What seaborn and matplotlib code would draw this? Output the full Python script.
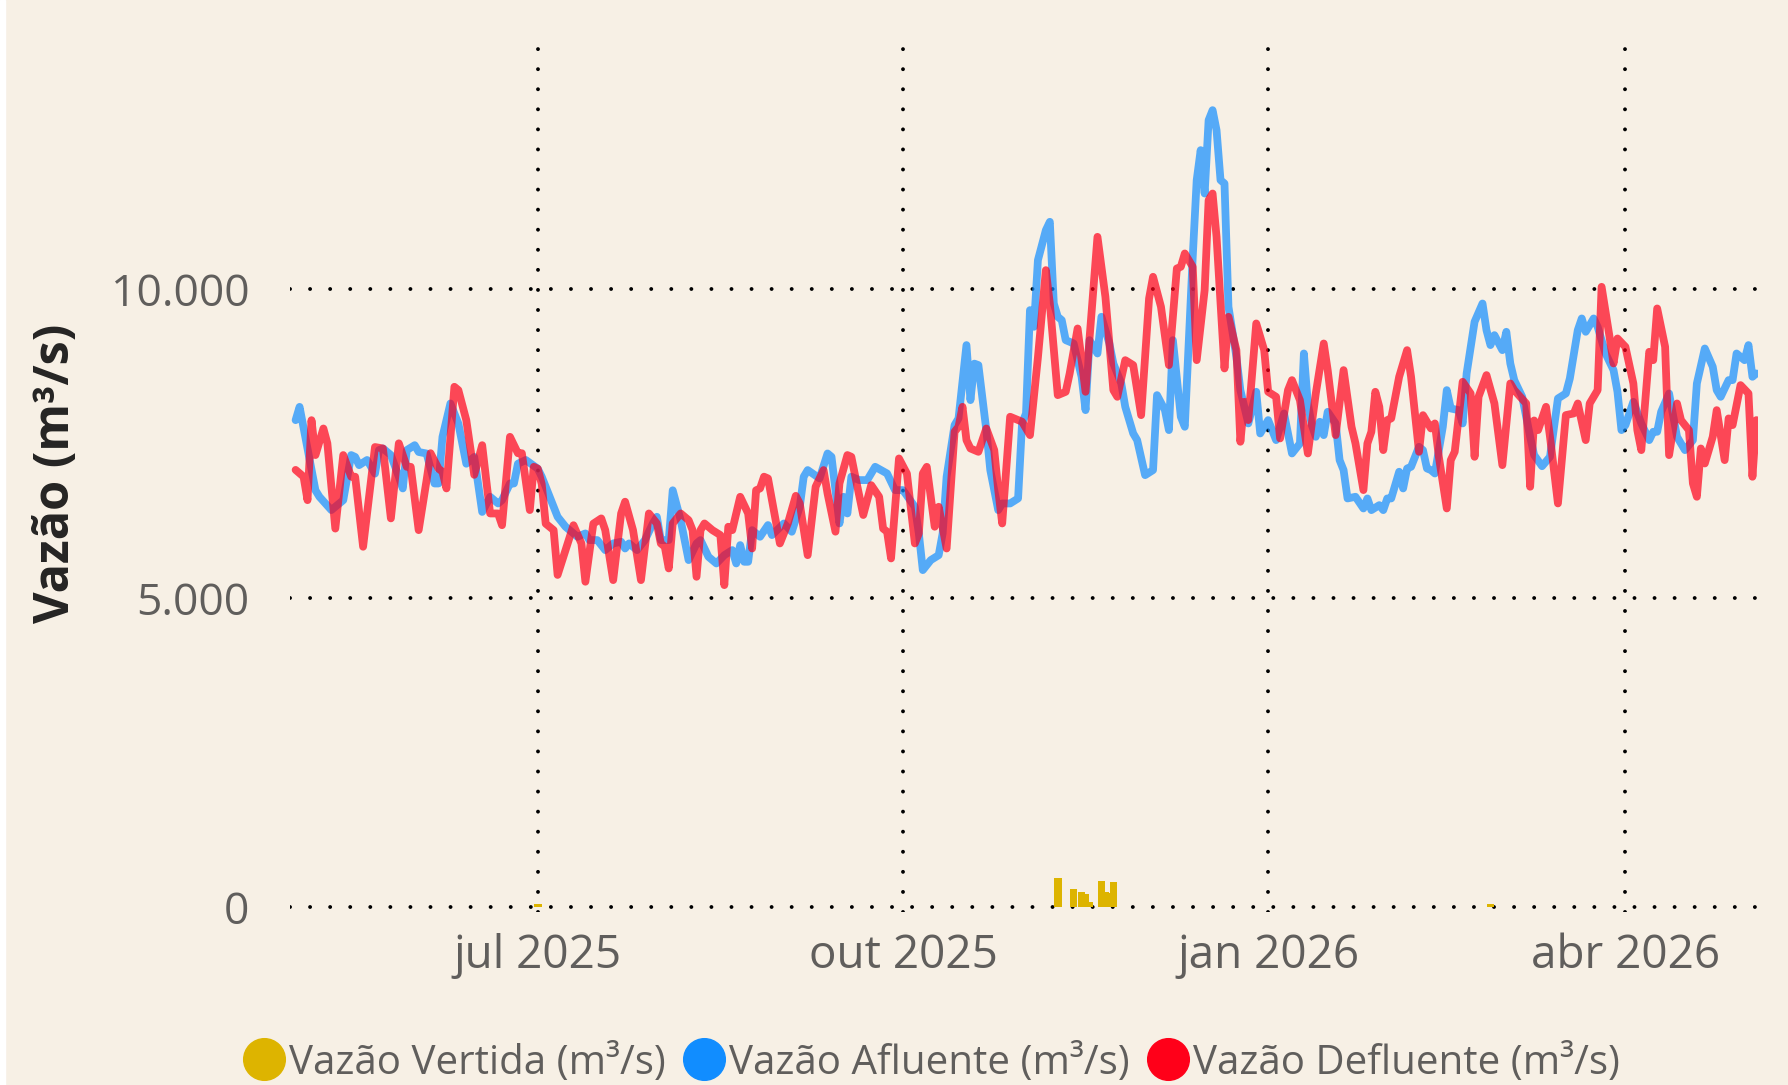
import numpy as np
import pandas as pd
import matplotlib
matplotlib.use('Agg')
import matplotlib.pyplot as plt
from matplotlib.lines import Line2D
from matplotlib.patches import Rectangle
import seaborn as sns

start = pd.Timestamp('2025-05-01')

# Vazão Afluente (blue) - day offset from start, value
afl_days = [0, 1, 5, 6, 9, 10, 12, 14, 15, 16, 18, 20, 21, 22, 24, 26, 27, 28, 30, 31,
            33, 35, 36, 37, 39, 41, 43, 45, 47, 49, 51, 52, 54, 55, 56, 58, 61, 62, 64, 66,
            68, 71, 73, 74, 76, 78, 80, 82, 83, 84, 86, 88, 90, 91, 92, 94, 95, 97, 99, 101,
            102, 104, 106, 108, 110, 111, 112, 113, 114, 115, 117, 119, 120, 123, 125, 127, 128, 129, 132, 134,
            135, 137, 138, 139, 140, 142, 144, 146, 149, 151, 153, 156, 157, 158, 160, 162, 163, 164, 166, 167,
            169, 170, 171, 172, 174, 175, 177, 178, 180, 182, 183, 184, 185, 186, 187, 189, 190, 191, 192, 193,
            194, 196, 198, 199, 200, 202, 203, 205, 206, 208, 209, 211, 212, 214, 216, 217, 219, 220, 221, 223,
            224, 226, 227, 228, 229, 230, 231, 232, 233, 234, 235, 237, 238, 240, 242, 243, 245, 247, 249, 251,
            253, 254, 255, 256, 257, 258, 259, 260, 262, 263, 264, 265, 267, 269, 270, 271, 273, 274, 275, 276,
            278, 279, 280, 281, 283, 284, 285, 286, 287, 289, 290, 291, 293, 294, 295, 297, 299, 300, 301, 302,
            304, 305, 306, 307, 309, 311, 312, 314, 316, 318, 320, 321, 323, 324, 325, 327, 328, 330, 332, 333,
            334, 335, 337, 339, 341, 342, 343, 344, 346, 348, 350, 352, 353, 355, 357, 358, 359, 361, 362, 363,
            365, 366, 367, 368]
afl_vals = [7885, 8100, 6750, 6645, 6430, 6483, 6590, 7320, 7290, 7157, 7240, 7020, 7400, 7427, 7320, 6969, 6780, 7400, 7480, 7370,
            7345, 6860, 6860, 7615, 8155, 7830, 7180, 7290, 6400, 6645, 6537, 6590, 6860, 6860, 7180, 7240, 7100, 6970, 6645, 6321,
            6160, 5998, 6052, 5944, 5944, 5782, 5890, 5917, 5808, 5890, 5782, 5944, 6213, 6321, 5944, 5944, 6750, 6267, 5620, 5890,
            5944, 5674, 5566, 5700, 5782, 5566, 5863, 5593, 5593, 6105, 5998, 6187, 6025, 6213, 6079, 6483, 6970, 7077, 6942, 7346,
            7292, 6213, 6645, 6375, 6970, 6915, 6915, 7130, 7022, 6753, 6753, 6483, 6052, 5458, 5620, 5700, 6052, 6970, 7805, 7913,
            9100, 8209, 8800, 8776, 7724, 7077, 6429, 6537, 6537, 6618, 7832, 7994, 9666, 9396, 10475, 10960, 11095, 9773, 9558, 9504,
            9180, 9126, 8587, 8047, 9180, 8964, 9558, 9126, 8803, 8479, 8101, 7670, 7562, 6995, 7077, 8290, 8047, 7724, 9180, 7940,
            7778, 10529, 11770, 12255, 11553, 12740, 12902, 12578, 11770, 11715, 9720, 8910, 8371, 7832, 8344, 7670, 7886, 7562, 7994, 7346,
            7508, 8964, 8155, 7805, 7616, 7859, 7643, 8020, 7832, 7238, 7077, 6618, 6645, 6456, 6618, 6429, 6510, 6429, 6618, 6618,
            7050, 6780, 7103, 7130, 7454, 7400, 7103, 7077, 7022, 7778, 8371, 8074, 8047, 7832, 8641, 9477, 9773, 9342, 9100, 9261,
            9018, 9315, 8803, 8533, 8263, 7616, 7320, 7140, 7292, 8236, 8317, 8560, 9342, 9531, 9315, 9531, 9396, 8964, 8695, 8344,
            7724, 7805, 8182, 7832, 7562, 7697, 7697, 8020, 8317, 7616, 7400, 7562, 8479, 9045, 8749, 8371, 8263, 8533, 8533, 8964,
            8856, 9100, 8587, 8641]

# Vazão Defluente (red)
def_days = [0, 2, 3, 4, 5, 7, 8, 10, 12, 14, 15, 17, 20, 22, 24, 26, 28, 29, 31, 33,
            34, 36, 37, 38, 40, 41, 43, 45, 47, 49, 51, 52, 54, 56, 57, 59, 60, 61, 62, 63,
            65, 66, 70, 72, 73, 75, 77, 78, 80, 82, 83, 85, 87, 89, 91, 92, 93, 94, 95, 97,
            99, 100, 101, 102, 103, 105, 107, 108, 109, 110, 112, 114, 115, 116, 117, 118, 119, 122, 124, 126,
            127, 129, 131, 133, 134, 136, 137, 139, 140, 141, 143, 145, 147, 148, 149, 150, 152, 154, 156, 157,
            158, 159, 161, 162, 164, 166, 167, 168, 169, 170, 172, 174, 176, 177, 178, 180, 183, 185, 187, 189,
            190, 192, 194, 195, 197, 199, 200, 202, 204, 206, 207, 209, 211, 213, 215, 216, 218, 220, 222, 223,
            224, 226, 227, 229, 230, 231, 232, 234, 235, 237, 238, 239, 240, 242, 244, 245, 247, 248, 250, 251,
            253, 255, 257, 259, 260, 262, 264, 266, 267, 269, 270, 271, 272, 273, 274, 275, 276, 278, 280, 281,
            283, 284, 286, 287, 288, 290, 291, 292, 294, 296, 297, 298, 300, 302, 304, 306, 307, 310, 311, 312,
            313, 315, 316, 318, 320, 322, 323, 325, 326, 328, 329, 331, 332, 333, 335, 337, 338, 339, 341, 342,
            343, 345, 346, 348, 349, 351, 352, 353, 354, 355, 357, 358, 360, 361, 362, 364, 366, 367, 368]
def_vals = [7080, 6970, 6590, 7885, 7320, 7750, 7510, 6130, 7320, 6970, 6970, 5836, 7450, 7427, 6295, 7510, 7130, 7130, 6105, 6915,
            7350, 7100, 7050, 6780, 8425, 8371, 7885, 7000, 7480, 6375, 6375, 6185, 7615, 7350, 7350, 6430, 7130, 7100, 6850, 6210,
            6105, 5380, 6185, 5890, 5270, 6210, 6295, 6105, 5296, 6375, 6565, 6105, 5296, 6375, 6213, 5890, 5836, 5485, 6213, 6375,
            6267, 6105, 5350, 6105, 6213, 6105, 6025, 5215, 6160, 6105, 6645, 6375, 5808, 6750, 6780, 6970, 6942, 5890, 6213, 6660,
            6537, 5700, 6807, 7077, 6699, 6080, 6861, 7320, 7292, 6969, 6350, 6833, 6645, 6130, 6079, 5647, 7265, 7020, 5890, 6052,
            7022, 7130, 6160, 6483, 5808, 7697, 7778, 8101, 7562, 7427, 7373, 7750, 7400, 6753, 6213, 7940, 7860, 7643, 8900, 10313,
            9773, 8290, 8344, 8641, 9369, 8344, 9207, 10852, 9881, 8371, 8263, 8856, 8776, 7966, 9854, 10205, 9720, 8776, 10340, 10367,
            10583, 10367, 8856, 9989, 11446, 11553, 10852, 8722, 9558, 9018, 7535, 8182, 7886, 9450, 9018, 8344, 8263, 7589, 8371, 8533,
            8209, 7346, 8317, 9126, 8695, 7643, 8695, 7778, 7508, 6753, 7508, 7697, 8344, 8101, 7400, 7886, 7913, 8587, 9018, 8587,
            7373, 7966, 7751, 7832, 7292, 6456, 7238, 7373, 8506, 8317, 7292, 8263, 8614, 8155, 7157, 8479, 8371, 8155, 6807, 7880,
            7724, 8101, 7616, 6537, 7967, 7994, 8155, 7562, 8155, 8371, 10043, 9234, 8803, 9207, 9072, 8479, 7724, 7400, 8991, 8856,
            9693, 9072, 7319, 8155, 7886, 7724, 6861, 6645, 7427, 7184, 7616, 8047, 7238, 7913, 7805, 8452, 8317, 6969, 7886]

# Vazão Vertida (yellow bars)
vert_days = [61, 192, 196, 198, 199, 200, 203, 204, 205, 206, 301]
vert_vals = [50, 470, 290, 254, 210, 80, 430, 254, 240, 415, 60]

tick_dates = ['2025-07-01', '2025-10-01', '2026-01-01', '2026-04-01']
tick_labels = ['jul 2025', 'out 2025', 'jan 2026', 'abr 2026']
y_ticks = [0, 5000, 10000]
y_labels = ['0', '5.000', '10.000']

df_afl = pd.DataFrame({'data': start + pd.to_timedelta(afl_days, unit='D'), 'vazao': afl_vals})
df_def = pd.DataFrame({'data': start + pd.to_timedelta(def_days, unit='D'), 'vazao': def_vals})
df_vert = pd.DataFrame({'data': start + pd.to_timedelta(vert_days, unit='D'), 'vazao': vert_vals})

bg = '#F7F0E5'
c_vert = '#DDB400'
c_afl = '#118DFF'
c_def = '#FF0019'

sns.set_style('white')
plt.rcParams['font.family'] = ['Open Sans', 'DejaVu Sans']

fig = plt.figure(figsize=(17.88, 10.85), dpi=100, facecolor=bg)
ax = fig.add_axes([0.162, 0.1594, 0.821, 0.798])
ax.set_facecolor(bg)

ax.bar(df_vert['data'], df_vert['vazao'], width=1.9, color=c_vert, linewidth=0, zorder=2)
sns.lineplot(data=df_afl, x='data', y='vazao', ax=ax, color=c_afl, alpha=0.7, zorder=3)
sns.lineplot(data=df_def, x='data', y='vazao', ax=ax, color=c_def, alpha=0.7, zorder=4)
for ln in ax.get_lines():
    ln.set_linewidth(5.6)
    ln.set_solid_joinstyle('round')
    ln.set_solid_capstyle('round')

ax.set_xlim(start - pd.Timedelta(days=1.5), start + pd.Timedelta(days=368.3))
ax.set_ylim(-76, 13937)

ax.set_xticks(pd.to_datetime(tick_dates))
ax.set_xticklabels(tick_labels)
ax.set_yticks(y_ticks)
ax.set_yticklabels(y_labels)
ax.tick_params(axis='x', length=0, pad=15, labelsize=33, labelcolor='#605E5C')
ax.tick_params(axis='y', length=0, pad=29, labelsize=32, labelcolor='#605E5C')

ax.grid(True, color='black', linestyle=(0, (0.01, 5.15)), linewidth=2.8,
        dash_capstyle='round', zorder=1)
ax.set_axisbelow(True)
for s in ax.spines.values():
    s.set_visible(False)

ax.set_xlabel('')
ax.set_ylabel('Vazão (m³/s)', fontsize=35, fontweight='bold', color='#252423')
ax.yaxis.set_label_coords(-0.142, 0.507)

handles = [Line2D([], [], marker='o', linestyle='', markersize=30, color=c)
           for c in [c_vert, c_afl, c_def]]
labels = ['Vazão Vertida (m³/s)', 'Vazão Afluente (m³/s)', 'Vazão Defluente (m³/s)']
leg = fig.legend(handles, labels, loc='center', bbox_to_anchor=(0.521, 0.02), ncol=3,
                 frameon=False, fontsize=29, handlelength=1.0, handletextpad=0.12,
                 columnspacing=0.45, labelcolor='#605E5C')

# white strip on the left edge
fig.patches.append(Rectangle((0, 0), 5 / 1788, 1, transform=fig.transFigure,
                             color='white', zorder=0))

fig.savefig('out.png', dpi=100, facecolor=bg)
